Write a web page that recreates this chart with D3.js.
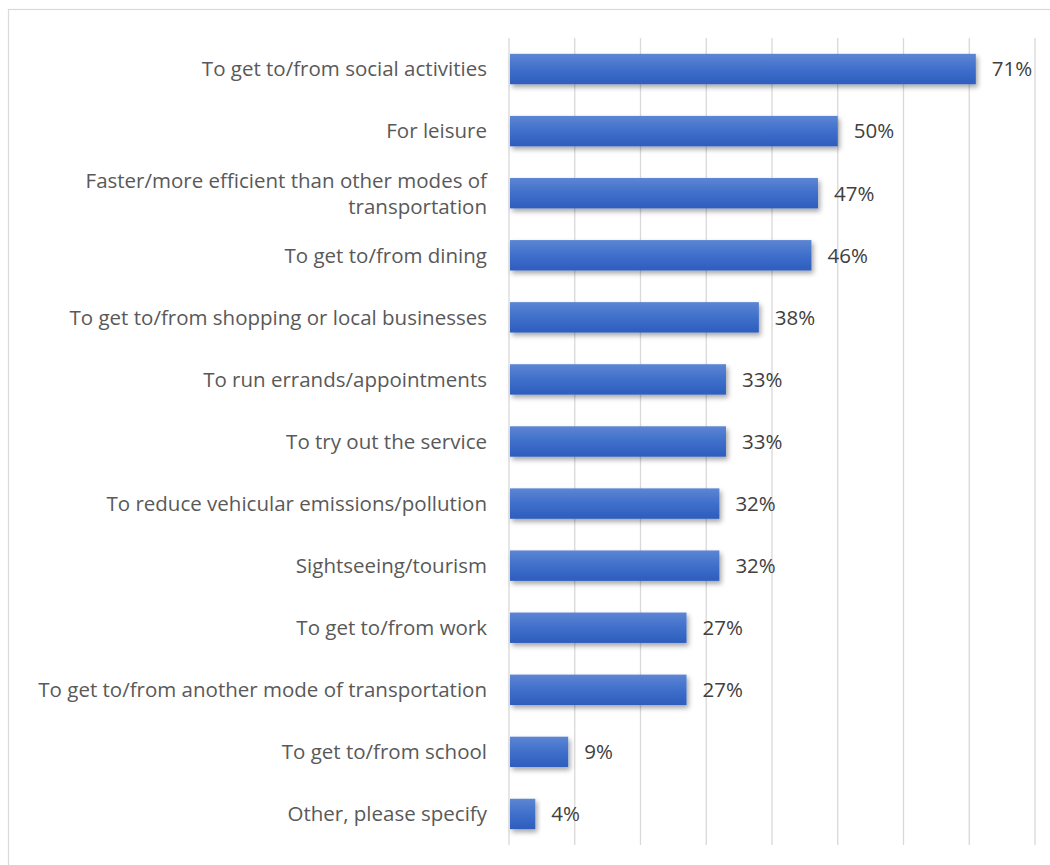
<!DOCTYPE html>
<html>
<head>
<meta charset="utf-8">
<script src="https://cdn.jsdelivr.net/npm/d3@7/dist/d3.min.js"></script>
<style>
  html, body { margin: 0; padding: 0; background: #fff; }
  svg { display: block; }
</style>
</head>
<body>
<div id="chart"></div>
<script>
// Reasons for using the service (share of respondents)
const categories = [
  "To get to/from social activities",
  "For leisure",
  "Faster/more efficient than other modes of|transportation",
  "To get to/from dining",
  "To get to/from shopping or local businesses",
  "To run errands/appointments",
  "To try out the service",
  "To reduce vehicular emissions/pollution",
  "Sightseeing/tourism",
  "To get to/from work",
  "To get to/from another mode of transportation",
  "To get to/from school",
  "Other, please specify"
];
const values = [71, 50, 47, 46, 38, 33, 33, 32, 32, 27, 27, 9, 4];
const xTicks = [0, 10, 20, 30, 40, 50, 60, 70, 80];

const W = 1050, H = 865;
const plot = { left: 509, right: 1035, top: 38, bottom: 845 };
const FONT = "'Open Sans', sans-serif";

const svg = d3.select("#chart").append("svg")
  .attr("width", W).attr("height", H);

const defs = svg.append("defs");
const grad = defs.append("linearGradient")
  .attr("id", "barFill").attr("x1", 0).attr("y1", 0).attr("x2", 0).attr("y2", 1);
grad.append("stop").attr("offset", "0%").attr("stop-color", "#5d86d3");
grad.append("stop").attr("offset", "50%").attr("stop-color", "#3f6fcb");
grad.append("stop").attr("offset", "100%").attr("stop-color", "#2e5dbd");

const shadow = defs.append("filter").attr("id", "barShadow")
  .attr("x", "-20%").attr("y", "-30%").attr("width", "140%").attr("height", "180%");
shadow.append("feDropShadow")
  .attr("dx", 2).attr("dy", 3).attr("stdDeviation", 2.5)
  .attr("flood-color", "#000").attr("flood-opacity", 0.35);

// Chart frame
svg.append("rect")
  .attr("x", 8.5).attr("y", 9.5)
  .attr("width", W + 10).attr("height", H + 10)
  .attr("fill", "none").attr("stroke", "#d9d9d9").attr("stroke-width", 1.2);

const x = d3.scaleLinear().domain([0, 80]).range([plot.left, plot.right]);
const y = d3.scaleBand().domain(categories).range([plot.top, plot.bottom]).paddingInner(0.51).paddingOuter(0.255);

// Vertical gridlines
svg.append("g")
  .selectAll("line").data(xTicks).join("line")
  .attr("x1", d => x(d)).attr("x2", d => x(d))
  .attr("y1", plot.top).attr("y2", plot.bottom)
  .attr("stroke", "#d9d9d9").attr("stroke-width", 1.3);

// Bars
const data = categories.map((c, i) => ({ c, v: values[i] }));
svg.append("g")
  .selectAll("rect").data(data).join("rect")
  .attr("x", x(0) + 1)
  .attr("y", d => y(d.c))
  .attr("width", d => x(d.v) - x(0) - 1)
  .attr("height", y.bandwidth())
  .attr("fill", "url(#barFill)")
  .attr("filter", "url(#barShadow)");

// Value labels
svg.append("g")
  .selectAll("text").data(data).join("text")
  .attr("x", d => x(d.v) + 16)
  .attr("y", d => y(d.c) + y.bandwidth() / 2)
  .attr("dy", "0.36em")
  .attr("font-family", FONT)
  .attr("font-size", 20.5)
  .attr("fill", "#404040")
  .text(d => d.v + "%");

// Category labels (right aligned, "|" marks a line break)
const catG = svg.append("g")
  .attr("font-family", FONT)
  .attr("font-size", 20.5)
  .attr("fill", "#595959")
  .attr("text-anchor", "end");
data.forEach(d => {
  const lines = d.c.split("|");
  const cy = y(d.c) + y.bandwidth() / 2;
  const lh = 26;
  const t = catG.append("text").attr("x", 487);
  lines.forEach((ln, k) => {
    t.append("tspan")
      .attr("x", 487)
      .attr("y", cy + (k - (lines.length - 1) / 2) * lh)
      .attr("dy", "0.36em")
      .text(ln);
  });
});
</script>
</body>
</html>
